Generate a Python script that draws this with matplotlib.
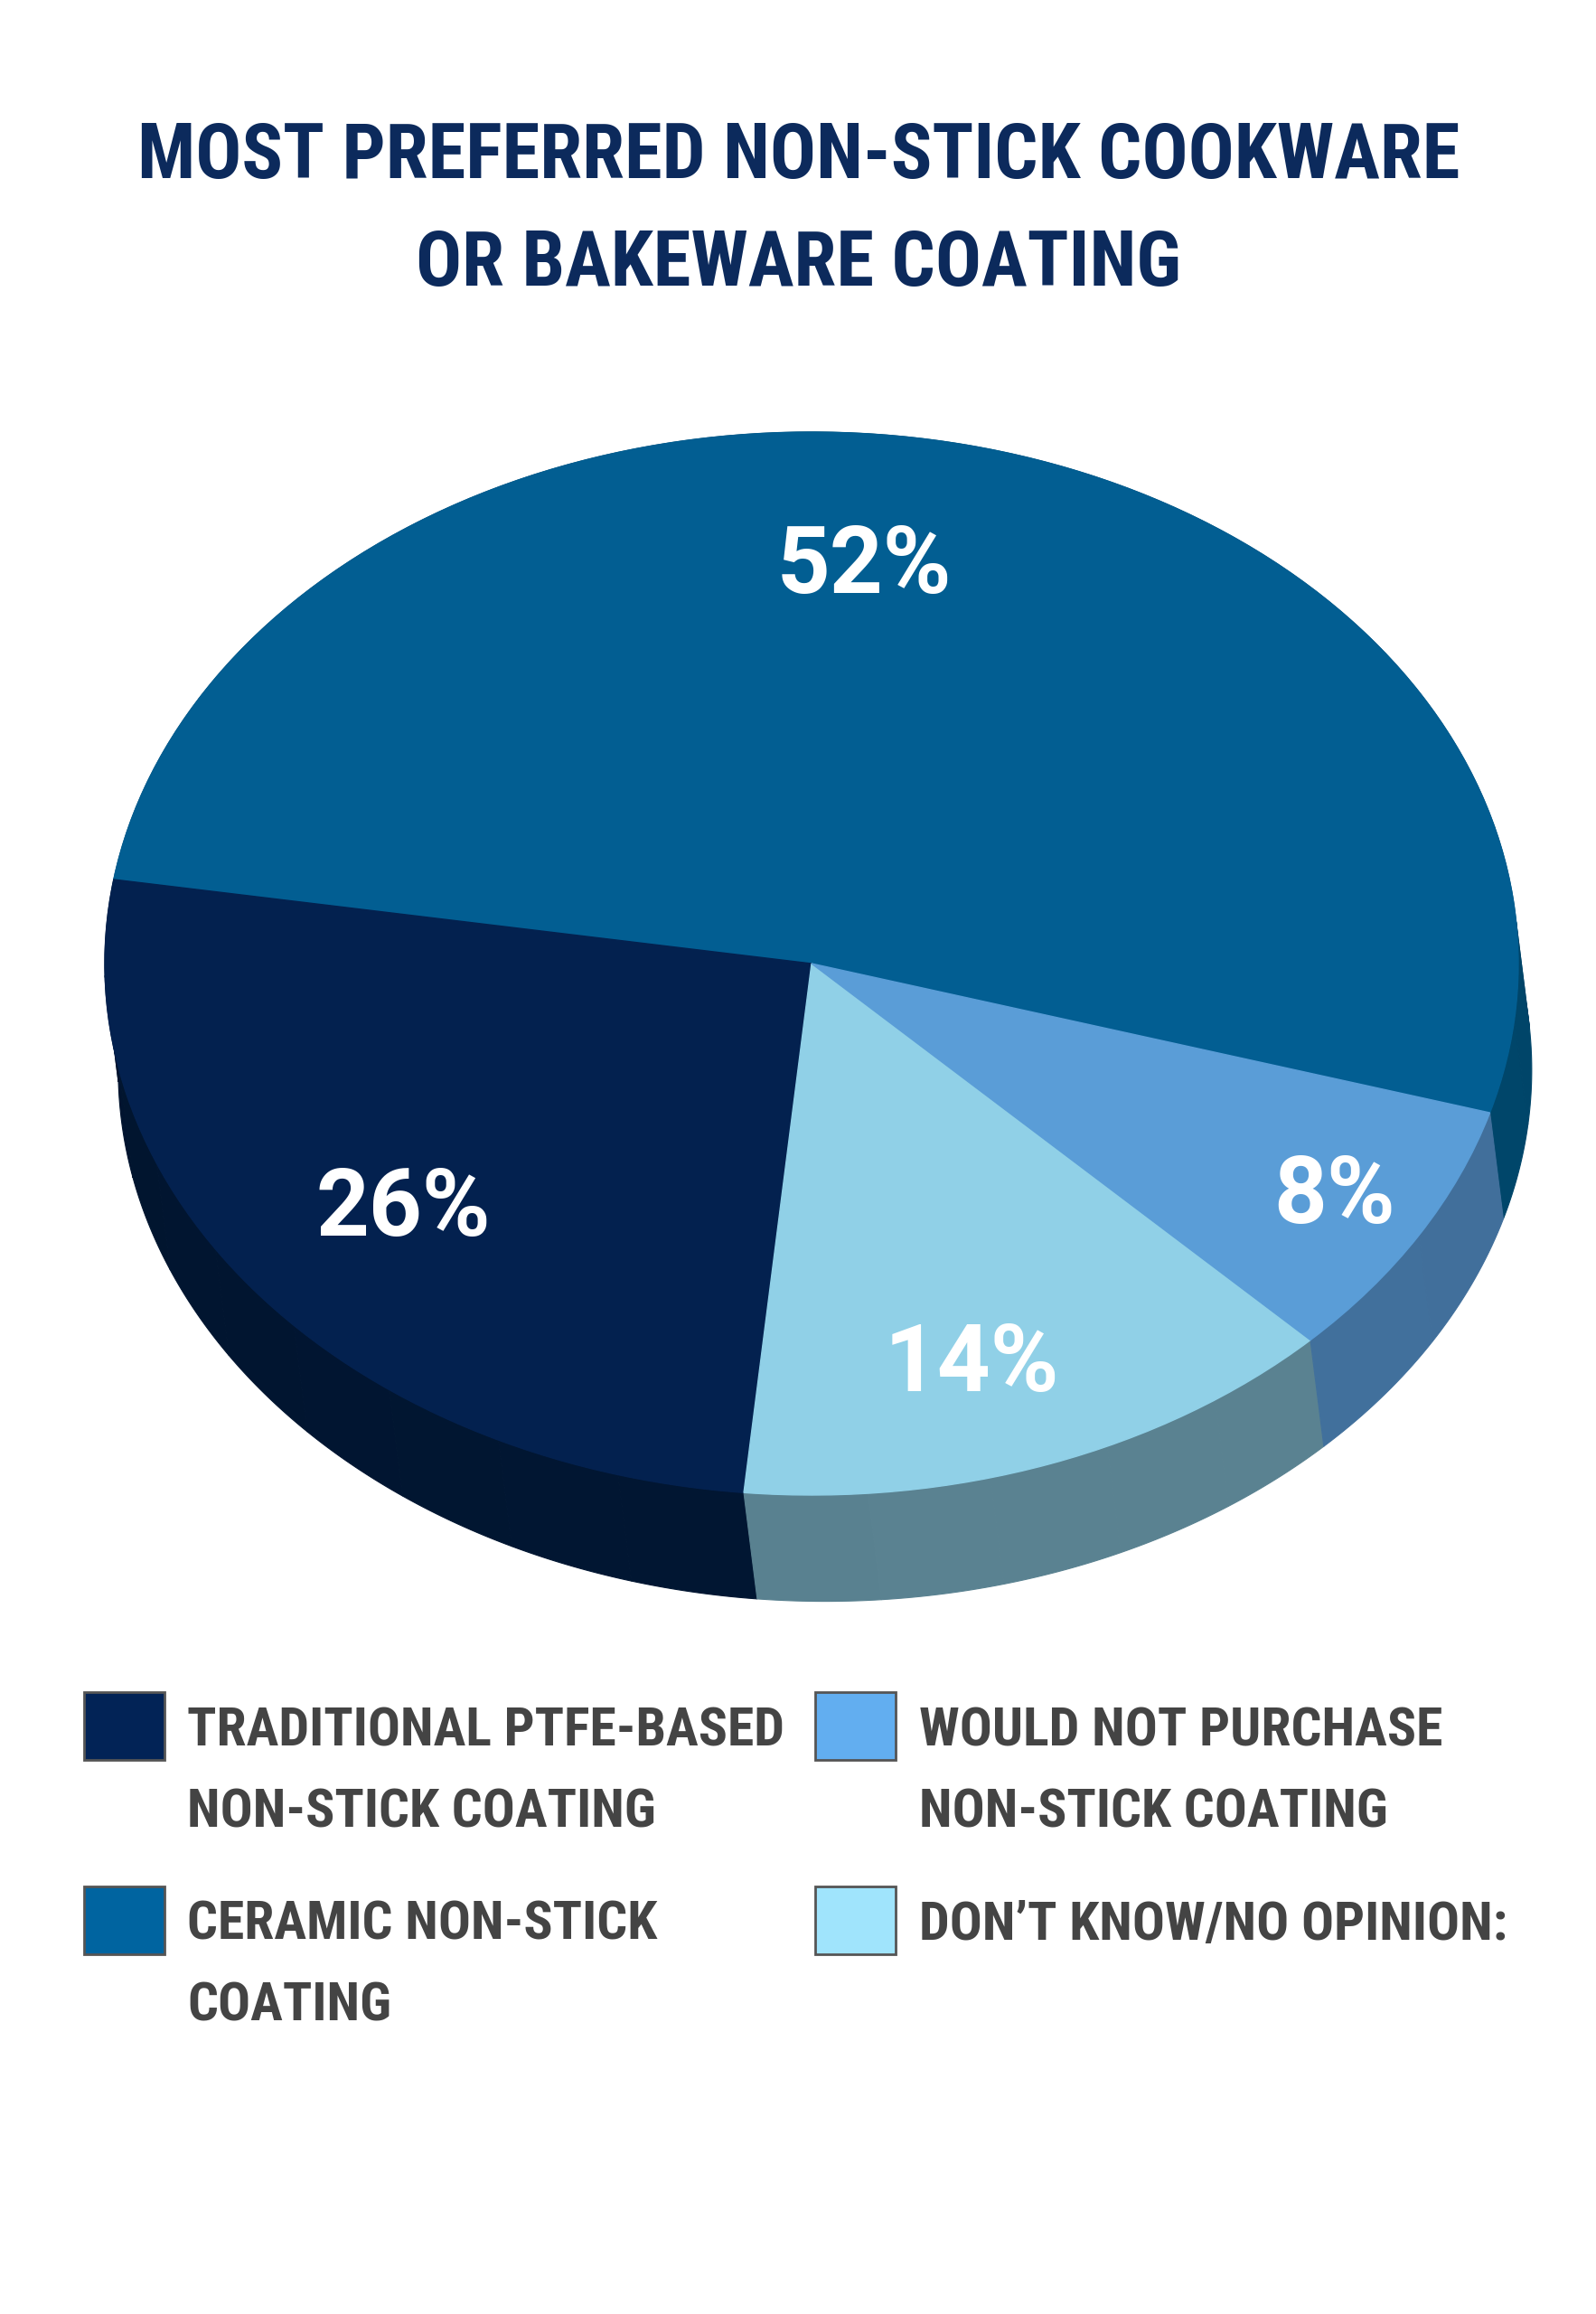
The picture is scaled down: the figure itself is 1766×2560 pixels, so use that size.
import numpy as np
import matplotlib.pyplot as plt
from matplotlib.colors import to_rgb
from matplotlib.patches import Polygon, Rectangle

# slices in drawing order (counter-clockwise from the start angle)
names = ['CERAMIC NON-STICK\nCOATING',
         'TRADITIONAL PTFE-BASED\nNON-STICK COATING',
         'DON\u2019T KNOW/NO OPINION:',
         'WOULD NOT PURCHASE\nNON-STICK COATING']
values = [52, 26, 14, 8]
pct_labels = ['52%', '26%', '14%', '8%']

top_colors = ['#025e92', '#03214f', '#90d0e7', '#5a9dd7']
side_colors = ['#004366', '#011530', '#557b89', '#3e6a94']
legend_colors = ['#0064a0', '#022356', '#a0e4fc', '#62aef0']

# legend layout: (slice index, column, row)
legend_slots = [(1, 0, 0), (0, 0, 1), (3, 1, 0), (2, 1, 1)]

narrow = ['Roboto Condensed', 'Liberation Sans', 'DejaVu Sans']
W, H = 1766, 2560

fig = plt.figure(figsize=(W / 100, H / 100), dpi=100)
fig.patch.set_facecolor('white')

# overlay axes in pixel coords for title + legend
ov = fig.add_axes([0, 0, 1, 1])
ov.set_xlim(0, W)
ov.set_ylim(H, 0)
ov.axis('off')

title_lines = ['MOST PREFERRED NON-STICK COOKWARE', 'OR BAKEWARE COATING']
for line, base in zip(title_lines, [197, 316]):
    ov.text(884, base, line, ha='center', va='baseline', fontsize=61,
            fontweight='bold', color='#0c2a5c', family=narrow)

# pie axes: unit circle maps to the ellipse (a=782px, b=588px, centre 898,1066)
cx, cy, a, b = 898, 1066, 782, 588
xl, yl = (-1.1, 1.1), (-1.3, 1.1)
left = (cx + xl[0] * a) / W
width = (xl[1] - xl[0]) * a / W
bottom = (H - (cy - yl[0] * b)) / H
height = (yl[1] - yl[0]) * b / H
ax = fig.add_axes([left, bottom, width, height])

wedges, _ = ax.pie(values, startangle=-16.3, counterclock=True, colors=top_colors,
                   radius=1, wedgeprops=dict(linewidth=1))
for w, c in zip(wedges, top_colors):
    w.set_edgecolor(c)
    w.set_zorder(5)

# extruded side
dx, dy = 0.019, -0.2
for w, c in zip(wedges, side_colors):
    t1, t2 = w.theta1, w.theta2
    n = max(int((t2 - t1) / 10), 1)
    edges = np.linspace(t1, t2, n + 1)
    base = np.array(to_rgb(c))
    for k in range(n):
        t = np.radians(np.linspace(edges[k], edges[k + 1], 20))
        top = np.column_stack([np.cos(t), np.sin(t)])
        bot = top[::-1] + [dx, dy]
        shade = 1 + 0.06 * np.cos(np.radians((edges[k] + edges[k + 1]) / 2 + 60))
        fc = np.clip(base * shade, 0, 1)
        ax.add_patch(Polygon(np.vstack([top, bot]), closed=True, fc=fc, ec=fc,
                             lw=0.8, zorder=2))

# percentage labels
label_r = [0.75, 0.74, 0.79, 0.86]
label_nudge = [7, 1, -3, 0]
for w, txt, r, nd in zip(wedges, pct_labels, label_r, label_nudge):
    mid = np.radians((w.theta1 + w.theta2) / 2 + nd)
    ax.text(r * np.cos(mid), r * np.sin(mid), txt, ha='center', va='center',
            fontsize=74, fontweight='bold', color='white',
            family=['Roboto', 'Liberation Sans', 'DejaVu Sans'], zorder=10)

ax.set_aspect('auto')
ax.set_xlim(*xl)
ax.set_ylim(*yl)
ax.axis('off')

# legend
col_box_x = [93, 902]
col_txt_x = [207, 1017]
row_box_y = [1872, 2087]
row_base_y = [1932, 2146]
for idx, col, row in legend_slots:
    ov.add_patch(Rectangle((col_box_x[col], row_box_y[row]), 89, 75,
                           fc=legend_colors[idx], ec='#555555', lw=2))
    for j, line in enumerate(names[idx].split('\n')):
        ov.text(col_txt_x[col], row_base_y[row] + j * 89, line, ha='left',
                va='baseline', fontsize=43, fontweight='bold', color='#444444',
                family=narrow)

fig.savefig('out.png', dpi=100, facecolor='white')
